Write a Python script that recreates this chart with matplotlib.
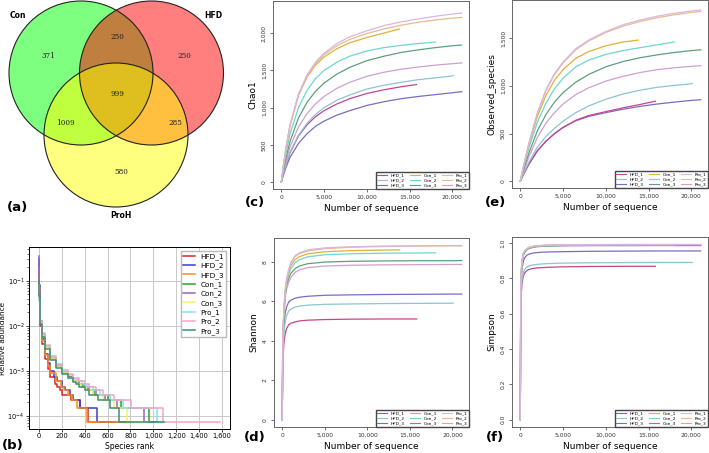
import matplotlib
matplotlib.use("Agg")
import matplotlib.pyplot as plt
from matplotlib.patches import Circle
from matplotlib.ticker import FuncFormatter, FixedLocator
from matplotlib.lines import Line2D

# ---------------- data ----------------
venn_sets = ["Con", "HFD", "ProH"]
venn_counts = {"Con": 371, "HFD": 250, "ProH": 580, "Con&HFD": 250,
               "Con&ProH": 1009, "HFD&ProH": 285, "all": 999}

samples = ["HFD_1", "HFD_2", "HFD_3", "Con_1", "Con_2", "Con_3", "Pro_1", "Pro_2", "Pro_3"]

# rank-abundance (rank, relative abundance) knots
ra_rank = {
    "HFD_1": [1, 2, 5, 10, 25, 50, 75, 100, 140, 160, 183, 200, 276, 358, 425, 650],
    "HFD_2": [1, 2, 5, 10, 25, 50, 75, 100, 130, 160, 200, 230, 270, 300, 360, 510, 800],
    "HFD_3": [1, 2, 5, 10, 25, 50, 75, 100, 150, 190, 215, 250, 290, 330, 420, 760],
    "Con_1": [1, 2, 5, 10, 25, 50, 100, 150, 200, 250, 300, 340, 380, 430, 480, 600, 720, 960, 1040],
    "Con_2": [1, 2, 5, 10, 25, 50, 100, 150, 200, 250, 300, 350, 390, 440, 500, 580, 680, 915, 1000],
    "Con_3": [1, 2, 5, 10, 25, 50, 100, 150, 200, 250, 300, 330, 370, 410, 470, 560, 660, 770, 960],
    "Pro_1": [1, 2, 5, 10, 25, 50, 100, 150, 200, 250, 300, 340, 380, 420, 470, 530, 620, 735, 1030, 1070],
    "Pro_2": [1, 2, 5, 10, 25, 50, 100, 150, 200, 250, 300, 350, 400, 440, 500, 560, 660, 808, 1085, 1580],
    "Pro_3": [1, 2, 5, 10, 25, 50, 100, 150, 200, 250, 300, 320, 350, 400, 440, 520, 620, 700, 1090],
}
ra_value = {
    "HFD_1": [0.16, 0.06, 0.02, 0.01, 4.0e-3, 1.8e-3, 1.1e-3, 7.4e-4, 5.2e-4, 4.44e-4, 3.7e-4, 2.96e-4, 2.22e-4, 1.48e-4, 7.4e-5, 7.4e-5],
    "HFD_2": [0.30, 0.08, 0.025, 0.012, 5.0e-3, 2.4e-3, 1.5e-3, 1.0e-3, 7.4e-4, 5.9e-4, 4.44e-4, 3.7e-4, 2.96e-4, 2.22e-4, 1.48e-4, 7.4e-5, 7.4e-5],
    "HFD_3": [0.20, 0.07, 0.022, 0.011, 4.6e-3, 2.2e-3, 1.3e-3, 9.0e-4, 5.9e-4, 4.44e-4, 3.7e-4, 2.96e-4, 2.22e-4, 1.48e-4, 7.4e-5, 7.4e-5],
    "Con_1": [0.10, 0.05, 0.025, 0.013, 6.0e-3, 3.3e-3, 1.8e-3, 1.25e-3, 9.0e-4, 7.4e-4, 5.9e-4, 5.2e-4, 4.44e-4, 3.7e-4, 2.96e-4, 2.22e-4, 1.48e-4, 7.4e-5, 7.4e-5],
    "Con_2": [0.35, 0.07, 0.025, 0.013, 6.5e-3, 3.5e-3, 1.9e-3, 1.3e-3, 9.5e-4, 7.4e-4, 6.0e-4, 5.2e-4, 4.44e-4, 3.7e-4, 2.96e-4, 2.22e-4, 1.48e-4, 7.4e-5, 7.4e-5],
    "Con_3": [0.08, 0.04, 0.022, 0.012, 6.0e-3, 3.3e-3, 1.8e-3, 1.2e-3, 8.8e-4, 7.0e-4, 5.9e-4, 5.2e-4, 4.44e-4, 3.7e-4, 2.96e-4, 2.22e-4, 1.48e-4, 7.4e-5, 7.4e-5],
    "Pro_1": [0.06, 0.035, 0.02, 0.012, 6.5e-3, 3.6e-3, 2.0e-3, 1.35e-3, 1.0e-3, 8.0e-4, 6.6e-4, 5.9e-4, 5.2e-4, 4.44e-4, 3.7e-4, 2.96e-4, 2.22e-4, 1.48e-4, 7.4e-5, 7.4e-5],
    "Pro_2": [0.07, 0.04, 0.022, 0.013, 7.0e-3, 3.8e-3, 2.1e-3, 1.4e-3, 1.05e-3, 8.5e-4, 7.0e-4, 5.9e-4, 5.2e-4, 4.44e-4, 3.7e-4, 2.96e-4, 2.22e-4, 1.48e-4, 7.4e-5, 7.4e-5],
    "Pro_3": [0.09, 0.045, 0.022, 0.011, 5.5e-3, 3.1e-3, 1.7e-3, 1.15e-3, 8.5e-4, 6.8e-4, 5.6e-4, 5.2e-4, 4.44e-4, 3.7e-4, 2.96e-4, 2.22e-4, 1.48e-4, 7.4e-5, 7.4e-5],
}
ra_colors = {"HFD_1": "#d62728", "HFD_2": "#3a3ad0", "HFD_3": "#ff8c1a", "Con_1": "#2ca02c",
             "Con_2": "#9467bd", "Con_3": "#f2f266", "Pro_1": "#80e6f0", "Pro_2": "#f2a6c4",
             "Pro_3": "#3f8f6c"}

# rarefaction
depth_rich = [0, 250, 500, 1000, 2000, 3000, 4000, 5000, 6500, 8000, 10000, 12000, 14000, 16000, 18000, 20000]
depth_div = [0, 50, 100, 200, 350, 500, 750, 1000, 1500, 2000, 3000, 5000, 8000, 12000, 16000, 20000]
end_depth = {"HFD_1": 15800, "HFD_2": 20100, "HFD_3": 21100, "Con_1": 13800, "Con_2": 18000,
             "Con_3": 21100, "Pro_1": 21100, "Pro_2": 21100, "Pro_3": 21100}

chao1 = {
    "Pro_1": [0, 230, 430, 760, 1180, 1440, 1610, 1730, 1860, 1950, 2030, 2100, 2150, 2190, 2225, 2255, 2270],
    "Pro_2": [0, 225, 420, 750, 1170, 1420, 1590, 1710, 1830, 1915, 1995, 2055, 2105, 2145, 2175, 2200, 2210],
    "Con_1": [0, 225, 420, 750, 1160, 1410, 1570, 1680, 1790, 1870, 1940, 2000, 2055],
    "Con_2": [0, 190, 360, 640, 1000, 1230, 1390, 1500, 1610, 1690, 1760, 1805, 1835, 1860, 1880],
    "Con_3": [0, 160, 300, 540, 860, 1070, 1220, 1330, 1450, 1540, 1630, 1690, 1740, 1775, 1805, 1830, 1840],
    "Pro_3": [0, 140, 260, 470, 740, 920, 1050, 1150, 1260, 1340, 1420, 1475, 1515, 1545, 1570, 1590, 1600],
    "HFD_2": [0, 120, 220, 400, 630, 790, 910, 1000, 1100, 1170, 1250, 1300, 1340, 1375, 1400, 1425, 1430],
    "HFD_1": [0, 115, 215, 390, 620, 770, 880, 960, 1050, 1120, 1190, 1240, 1280, 1310],
    "HFD_3": [0, 100, 185, 330, 520, 650, 750, 820, 900, 960, 1030, 1080, 1120, 1150, 1175, 1200, 1215],
}
observed = {
    "Pro_1": [0, 110, 210, 400, 720, 960, 1130, 1250, 1390, 1480, 1570, 1640, 1690, 1730, 1760, 1785, 1795],
    "Pro_2": [0, 108, 207, 395, 710, 950, 1120, 1240, 1380, 1470, 1560, 1625, 1675, 1715, 1745, 1770, 1780],
    "Con_1": [0, 105, 200, 380, 680, 900, 1060, 1170, 1290, 1360, 1420, 1460, 1480],
    "Con_2": [0, 95, 185, 350, 620, 820, 970, 1080, 1200, 1270, 1330, 1370, 1400, 1430, 1460],
    "Con_3": [0, 80, 155, 295, 530, 700, 830, 930, 1040, 1120, 1200, 1255, 1295, 1325, 1350, 1370, 1378],
    "Pro_3": [0, 70, 135, 255, 460, 610, 720, 810, 910, 980, 1050, 1100, 1140, 1170, 1190, 1205, 1212],
    "HFD_2": [0, 55, 105, 200, 360, 470, 555, 630, 720, 790, 860, 915, 955, 985, 1005, 1022, 1025],
    "HFD_1": [0, 50, 95, 180, 320, 420, 500, 565, 640, 690, 730, 770, 805, 840],
    "HFD_3": [0, 50, 95, 180, 320, 420, 500, 565, 635, 680, 720, 755, 785, 810, 830, 848, 855],
}
shannon = {
    "Pro_1": [0, 3.6, 4.6, 5.7, 6.6, 7.1, 7.6, 7.95, 8.3, 8.45, 8.6, 8.7, 8.76, 8.79, 8.81, 8.82, 8.82],
    "Pro_2": [0, 3.6, 4.6, 5.7, 6.6, 7.1, 7.55, 7.9, 8.25, 8.4, 8.55, 8.66, 8.73, 8.77, 8.79, 8.8, 8.8],
    "Con_1": [0, 3.6, 4.6, 5.6, 6.5, 7.0, 7.45, 7.8, 8.1, 8.25, 8.4, 8.5, 8.56, 8.59, 8.6],
    "Con_2": [0, 3.5, 4.5, 5.5, 6.4, 6.9, 7.35, 7.65, 7.95, 8.1, 8.25, 8.35, 8.4, 8.43, 8.44, 8.45],
    "Con_3": [0, 3.4, 4.4, 5.4, 6.3, 6.8, 7.15, 7.4, 7.65, 7.78, 7.9, 7.98, 8.02, 8.04, 8.05, 8.05, 8.06],
    "Pro_3": [0, 3.4, 4.4, 5.3, 6.2, 6.6, 6.95, 7.2, 7.45, 7.58, 7.7, 7.78, 7.82, 7.84, 7.85, 7.86, 7.86],
    "HFD_3": [0, 3.0, 3.9, 4.8, 5.4, 5.7, 5.95, 6.05, 6.15, 6.2, 6.25, 6.3, 6.32, 6.34, 6.35, 6.36, 6.36],
    "HFD_2": [0, 2.8, 3.6, 4.4, 4.95, 5.25, 5.5, 5.6, 5.7, 5.75, 5.8, 5.84, 5.86, 5.88, 5.89, 5.9, 5.9],
    "HFD_1": [0, 2.5, 3.2, 3.9, 4.35, 4.6, 4.8, 4.88, 4.95, 5.0, 5.04, 5.07, 5.09, 5.1, 5.1],
}
simpson = {
    "Pro_1": [0, 0.72, 0.83, 0.9, 0.94, 0.955, 0.968, 0.975, 0.982, 0.985, 0.988, 0.99, 0.991, 0.992, 0.992, 0.992, 0.992],
    "Pro_2": [0, 0.72, 0.83, 0.9, 0.94, 0.954, 0.967, 0.974, 0.981, 0.984, 0.987, 0.989, 0.99, 0.991, 0.991, 0.991, 0.991],
    "Con_1": [0, 0.72, 0.83, 0.9, 0.94, 0.955, 0.967, 0.974, 0.981, 0.984, 0.987, 0.989, 0.99, 0.99, 0.99],
    "Con_2": [0, 0.72, 0.83, 0.9, 0.935, 0.952, 0.965, 0.972, 0.979, 0.982, 0.985, 0.987, 0.988, 0.989, 0.989, 0.989],
    "Con_3": [0, 0.7, 0.82, 0.89, 0.93, 0.948, 0.962, 0.97, 0.977, 0.98, 0.983, 0.985, 0.986, 0.986, 0.987, 0.987, 0.987],
    "Pro_3": [0, 0.7, 0.81, 0.885, 0.925, 0.945, 0.96, 0.968, 0.975, 0.979, 0.982, 0.984, 0.985, 0.985, 0.985, 0.985, 0.985],
    "HFD_3": [0, 0.66, 0.77, 0.85, 0.895, 0.915, 0.93, 0.937, 0.943, 0.946, 0.949, 0.951, 0.953, 0.954, 0.955, 0.955, 0.955],
    "HFD_2": [0, 0.62, 0.72, 0.79, 0.83, 0.85, 0.863, 0.87, 0.876, 0.879, 0.883, 0.886, 0.888, 0.889, 0.89, 0.89, 0.89],
    "HFD_1": [0, 0.6, 0.7, 0.77, 0.81, 0.83, 0.843, 0.85, 0.856, 0.859, 0.862, 0.865, 0.867, 0.868, 0.868],
}
rare_colors = {"HFD_1": "#c4458e", "HFD_2": "#8cc5d2", "HFD_3": "#7a6cc4", "Con_1": "#dcb23a",
               "Con_2": "#6fd6cf", "Con_3": "#5e9f7e", "Pro_1": "#d8b6e4", "Pro_2": "#e9bb8c",
               "Pro_3": "#cf9fd0"}
draw_order = ["HFD_3", "HFD_1", "HFD_2", "Pro_3", "Con_3", "Con_2", "Con_1", "Pro_2", "Pro_1"]

# ---------------- figure ----------------
W, H = 709, 453
fig = plt.figure(figsize=(W / 100, H / 100), dpi=100)


def px_axes(x0, y0, x1, y1):
    return fig.add_axes([x0 / W, 1 - y1 / H, (x1 - x0) / W, (y1 - y0) / H])


# ---- (a) Venn ----
axa = px_axes(0, 0, 235, 225)
axa.set_xlim(0, 235)
axa.set_ylim(225, 0)
axa.axis("off")
circ = {"Con": ((81, 73), "#00ff00"), "HFD": ((151.5, 73), "#ff0000"), "ProH": ((116, 135), "#ffff00")}
R = 72
for s in venn_sets:
    c, col = circ[s]
    axa.add_patch(Circle(c, R, facecolor=col, alpha=0.5, edgecolor="none"))
for s in venn_sets:
    c, col = circ[s]
    axa.add_patch(Circle(c, R, fill=False, edgecolor="#222222", lw=0.8))
num_pos = {"Con": (48, 56), "HFD": (184, 56), "ProH": (121, 172), "Con&HFD": (117, 37),
           "Con&ProH": (65, 123), "HFD&ProH": (175, 123), "all": (117, 94)}
for k, v in venn_counts.items():
    axa.text(*num_pos[k], str(v), ha="center", va="center", fontsize=5.2,
             family="DejaVu Serif", color="#222222")
lab_pos = {"Con": (18, 16), "HFD": (213, 16), "ProH": (121, 216)}
for s in venn_sets:
    axa.text(*lab_pos[s], s, ha="center", va="center", fontsize=5.5, fontweight="bold")

# ---- (b) rank abundance ----
axb = px_axes(29, 247, 230, 429)
for s in samples:
    axb.plot(ra_rank[s], ra_value[s], drawstyle="steps-post", color=ra_colors[s], lw=1.1, label=s)
axb.set_yscale("log")
axb.set_xlim(-87, 1670)
axb.set_ylim(5.1e-5, 0.56)
axb.xaxis.set_major_locator(FixedLocator(list(range(0, 1601, 200))))
axb.xaxis.set_major_formatter(FuncFormatter(lambda v, p: f"{int(v):,}"))
axb.grid(True, which="major", color="#c8c8c8", lw=0.7)
axb.set_axisbelow(True)
axb.tick_params(labelsize=4.8, length=2, width=0.5, pad=1.2)
axb.tick_params(which="minor", length=1.2, width=0.4)
axb.set_xlabel("Species rank", fontsize=5.5, labelpad=2)
axb.set_ylabel("Relative abundance", fontsize=5.3)
axb.yaxis.set_label_coords(-0.115, 0.5)
for sp in axb.spines.values():
    sp.set_linewidth(0.7)
axb.legend(loc="upper right", fontsize=5.2, handlelength=1.6, labelspacing=0.35,
           borderpad=0.35, framealpha=1, edgecolor="#bbbbbb", fancybox=False)


# ---- rarefaction panels ----
def rare_panel(box, data, ylim, yticks, ylabel, ydec=False):
    ax = px_axes(*box)
    for s in draw_order:
        vals = data[s]
        grid = depth_div if ydec else depth_rich
        d = grid[:len(vals) - 1] + [end_depth[s]]
        ax.plot(d, vals, color=rare_colors[s], lw=0.9)
    ax.set_xlim(-970, 21950)
    ax.set_ylim(*ylim)
    ax.set_xticks([0, 5000, 10000, 15000, 20000])
    ax.xaxis.set_major_formatter(FuncFormatter(lambda v, p: f"{int(v):,}"))
    ax.set_yticks(yticks)
    if ydec:
        ax.yaxis.set_major_formatter(FuncFormatter(lambda v, p: f"{v:g}"))
    else:
        ax.yaxis.set_major_formatter(FuncFormatter(lambda v, p: f"{int(v):,}"))
    ax.tick_params(labelsize=4.3, length=2.5, width=0.5, pad=2, colors="#333333")
    for lab in ax.get_yticklabels():
        lab.set_rotation(90)
        lab.set_va("center")
    for sp in ax.spines.values():
        sp.set_linewidth(0.7)
        sp.set_color("#666666")
    ax.set_xlabel("Number of sequence", fontsize=6.5, labelpad=3)
    ax.set_ylabel(ylabel, fontsize=6.5, labelpad=3)
    handles = [Line2D([], [], color=rare_colors[s], lw=0.8) for s in samples]
    ax.legend(handles, samples, loc="lower right", ncol=3, fontsize=3.2, handlelength=2.2,
              labelspacing=0.15, columnspacing=1.2, borderpad=0.4, borderaxespad=0,
              frameon=True, fancybox=False, edgecolor="#444444", framealpha=1)
    return ax


rare_panel((273, 1, 469, 189), chao1, (-90, 2430), [0, 500, 1000, 1500, 2000], "Chao1")
rare_panel((512, 0, 708, 188), observed, (-70, 1900), [0, 500, 1000, 1500], "Observed_species")
rare_panel((274, 238, 469, 427), shannon, (-0.37, 9.2), [0, 2, 4, 6, 8], "Shannon", ydec=True)
axf = rare_panel((512, 237, 708, 427), simpson, (-0.042, 1.034), [0.0, 0.2, 0.4, 0.6, 0.8, 1.0], "Simpson", ydec=True)
axf.yaxis.set_major_formatter(FuncFormatter(lambda v, p: f"{v:.1f}"))

# ---- panel letters ----
for txt, x, y in [("(a)", 18, 208), ("(b)", 13, 445), ("(c)", 255, 202), ("(e)", 495, 202),
                  ("(d)", 255, 438), ("(f)", 495, 438)]:
    fig.text(x / W, 1 - y / H, txt, fontsize=9.5, fontweight="bold", ha="center", va="center")

fig.savefig("out.png", dpi=100)
